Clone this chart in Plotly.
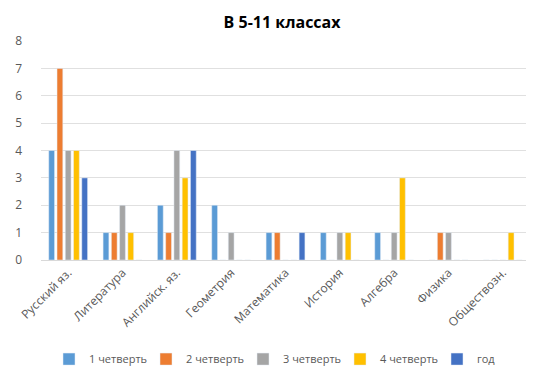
import plotly.graph_objects as go

subjects = ['Русский яз.', 'Литература', 'Английск. яз.', 'Геометрия', 'Математика',
            'История', 'Алгебра', 'Физика', 'Обществозн.']
q1 = [4, 1, 2, 2, 1, 1, 1, 0, 0]
q2 = [7, 1, 1, 0, 1, 0, 0, 1, 0]
q3 = [4, 2, 4, 1, 0, 1, 1, 1, 0]
q4 = [4, 1, 3, 0, 0, 1, 3, 0, 1]
year = [3, 0, 4, 0, 1, 0, 0, 0, 0]

series = [
    ('1 четверть', q1, '#5B9BD5'),
    ('2 четверть', q2, '#ED7D31'),
    ('3 четверть', q3, '#A5A5A5'),
    ('4 четверть', q4, '#FFC000'),
    ('год', year, '#4472C4'),
]

fig = go.Figure()
for name, vals, color in series:
    fig.add_trace(go.Bar(x=subjects, y=vals, name=name, marker_color=color))

# the page body adds an 8px margin, so the figure is a little smaller than the window
fig.update_layout(
    width=526, height=368,
    margin=dict(l=33, r=4, t=33, b=115),
    paper_bgcolor='white', plot_bgcolor='white',
    font=dict(family='Open Sans, sans-serif', size=11, color='#595959'),
    title=dict(text='<b>В 5-11 классах</b>', x=0.521, xanchor='center', y=0.962, yanchor='middle',
               font=dict(size=16, color='#000000')),
    barmode='group', bargap=0.24, bargroupgap=0.3,
    legend=dict(orientation='h', x=0.52, xanchor='center', y=-0.38, yanchor='top',
                font=dict(size=11, color='#595959'), itemwidth=30,
                entrywidth=52, entrywidthmode='pixels'),
    showlegend=True,
)
fig.update_xaxes(tickangle=-45, showgrid=False, linecolor='#D9D9D9', showline=True,
                 ticks='', tickfont=dict(size=12), automargin=False)
fig.update_yaxes(range=[0, 8], dtick=1, gridcolor='#E0E0E0', zeroline=False,
                 showline=False, ticks='', tickfont=dict(size=12), automargin=False,
                 ticklabelstandoff=18)

fig.write_html("out.html")
